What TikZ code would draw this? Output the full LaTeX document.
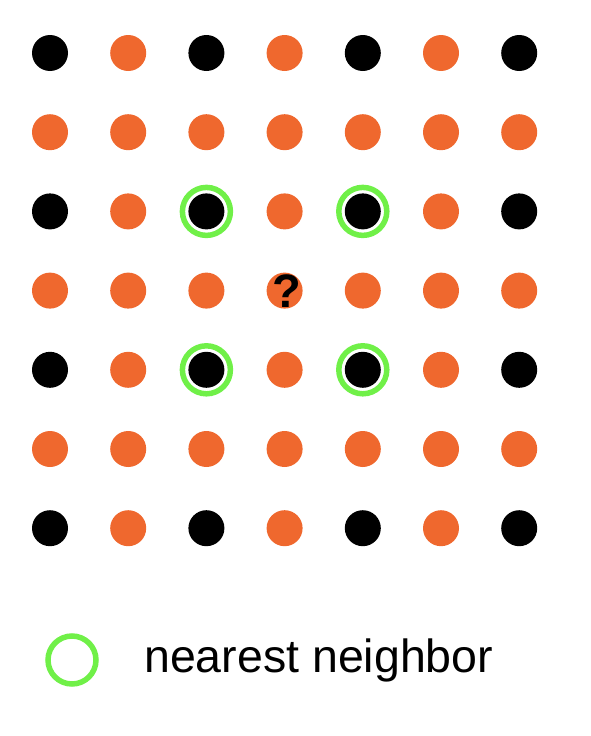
\documentclass[tikz,border=0pt]{standalone}
\usepackage{fontspec}
\setmainfont{Liberation Sans}
\usetikzlibrary{positioning}
\definecolor{colOther}{RGB}{239,104,46}
\definecolor{colNear}{RGB}{112,240,72}

\begin{document}
\begin{tikzpicture}[
    x=1pt, y=-1pt,
    dot/.style={circle, inner sep=0pt, minimum size=36pt},
    ring/.style={draw=colNear, circle, line width=5.5pt, inner sep=0pt, minimum size=48pt}
]
    \useasboundingbox (0,0) rectangle (590,736);

    % samples on a 7x7 grid, black where row and column are both even
    \foreach \i in {0,...,6}
      \foreach \j in {0,...,6} {
        \pgfmathparse{int(mod(\i,2)+mod(\j,2))}
        \ifnum\pgfmathresult=0 \def\col{black}\else\def\col{colOther}\fi
        \node[dot, fill=\col] (d\i\j) at (50+78.2*\i, 53+79.2*\j) {};
      }

    % query point
    \node[inner sep=0pt, xshift=2pt, font=\bfseries\fontsize{47}{47}\selectfont] (query) at (d33) {?};

    % the four nearest neighbors
    \foreach \n in {22,42,24,44}
      \node[ring] (near\n) at (d\n) {};

    % legend
    \node[ring] (key) at (72,660) {};
    \node[anchor=base west, inner sep=0pt, font=\fontsize{46.5}{50}\selectfont] (keytext) at (144,672) {nearest neighbor};
\end{tikzpicture}
\end{document}
